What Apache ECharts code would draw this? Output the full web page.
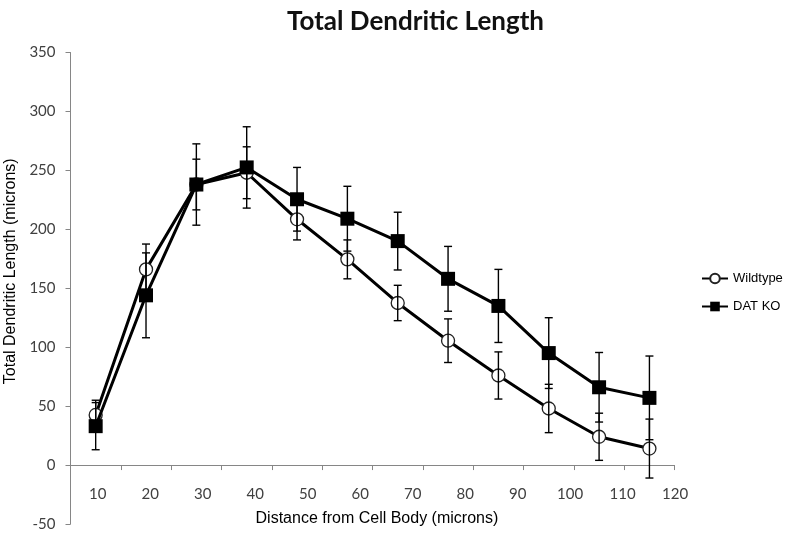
<!DOCTYPE html>
<html>
<head>
<meta charset="utf-8">
<script src="https://cdn.jsdelivr.net/npm/echarts@6/dist/echarts.min.js"></script>
<style>
html,body{margin:0;padding:0;background:#fff;}
#chart{width:800px;height:537px;}
</style>
</head>
<body>
<div id="chart"></div>
<script>
// ---- data ----
const categories = ['10','20','30','40','50','60','70','80','90','100','110','120'];
const wildtype    = [42.5, 166, 238, 248, 208.5, 174.5, 137.5, 105.5, 76, 48, 24, 14];
const wildtypeErr = [12.5, 21.5, 21.5, 22, 17.5, 16.5, 15, 18.5, 20, 20.5, 20, 25];
const datko       = [33, 144, 238, 252.5, 225.5, 209, 190, 158, 135, 95, 66, 57];
const datkoErr    = [20, 36, 34.5, 34.5, 27, 27.5, 24.5, 27.5, 31, 30, 29.5, 35.5];
const yTicks = { min: -50, max: 350, interval: 50 };

function errData(vals, errs) {
  return vals.map((v, i) => [i, v - errs[i], v + errs[i]]);
}
function errRender(params, api) {
  const x = api.value(0);
  const lo = api.coord([x, api.value(1)]);
  const hi = api.coord([x, api.value(2)]);
  const w = 4;
  const st = { stroke: '#000', lineWidth: 1.4 };
  return {
    type: 'group',
    children: [
      { type: 'line', shape: { x1: hi[0], y1: hi[1], x2: lo[0], y2: lo[1] }, style: st },
      { type: 'line', shape: { x1: hi[0] - w, y1: hi[1], x2: hi[0] + w, y2: hi[1] }, style: st },
      { type: 'line', shape: { x1: lo[0] - w, y1: lo[1], x2: lo[0] + w, y2: lo[1] }, style: st }
    ]
  };
}

const chart = echarts.init(document.getElementById('chart'), null, { renderer: 'canvas' });
const axisGray = '#868686';
const labelColor = '#404040';
chart.setOption({
  backgroundColor: '#ffffff',
  animation: false,
  title: {
    text: 'Total Dendritic Length',
    left: 410.5, top: 4, textAlign: 'center',
    textStyle: { fontFamily: 'Lato', fontWeight: 'bold', fontSize: 26, color: '#111' }
  },
  legend: {
    orient: 'vertical',
    left: 696, top: 267,
    itemWidth: 26, itemHeight: 12, itemGap: 15,
    textStyle: { fontFamily: 'Liberation Sans', fontSize: 13, color: '#000' },
    data: ['Wildtype', 'DAT KO']
  },
  grid: [
    { left: 70.5, right: 125.4, top: 52.5, bottom: 13, containLabel: false, outerBoundsMode: 'none' },
    { left: 71.4, width: 630, top: 52.5, bottom: 72, containLabel: false, outerBoundsMode: 'none' }
  ],
  xAxis: [
    {
      type: 'category', gridIndex: 0, data: categories, boundaryGap: true,
      axisLine: { onZero: true, lineStyle: { color: axisGray, width: 1 } },
      axisTick: { show: true, interval: 0, length: 5, lineStyle: { color: axisGray } },
      axisLabel: { show: false }
    },
    {
      type: 'category', gridIndex: 1, data: categories, boundaryGap: true, position: 'bottom',
      axisLine: { show: false }, axisTick: { show: false },
      axisLabel: { interval: 0, margin: 22, fontFamily: 'Lato', fontSize: 15, color: labelColor },
      name: 'Distance from Cell Body (microns)',
      nameLocation: 'middle', nameGap: 46,
      nameTextStyle: { fontFamily: 'Liberation Sans', fontSize: 16, color: '#000', padding: [0, 19, 0, 0] }
    }
  ],
  yAxis: [
    {
      type: 'value', gridIndex: 0, min: yTicks.min, max: yTicks.max, interval: yTicks.interval,
      splitLine: { show: false },
      axisLine: { show: true, lineStyle: { color: axisGray, width: 1 } },
      axisTick: { show: true, length: 5, lineStyle: { color: axisGray } },
      axisLabel: { margin: 15, fontFamily: 'Lato', fontSize: 15, color: labelColor },
      name: 'Total Dendritic Length (microns)',
      nameLocation: 'middle', nameGap: 46, nameRotate: 90,
      nameTextStyle: { fontFamily: 'Liberation Sans', fontSize: 16, color: '#000', padding: [0, 0, 0, 34] }
    },
    {
      type: 'value', gridIndex: 1, min: yTicks.min, max: yTicks.max, show: false
    }
  ],
  series: [
    {
      name: 'Wildtype', type: 'line', xAxisIndex: 0, yAxisIndex: 0, data: wildtype,
      symbol: 'circle', symbolSize: 13, z: 3,
      lineStyle: { color: '#000', width: 3 },
      itemStyle: { color: '#fff', borderColor: '#222', borderWidth: 1.3 }
    },
    {
      name: 'DAT KO', type: 'line', xAxisIndex: 0, yAxisIndex: 0, data: datko,
      symbol: 'rect', symbolSize: 14, z: 4,
      lineStyle: { color: '#000', width: 3 },
      itemStyle: { color: '#000', borderColor: '#000', borderWidth: 0 }
    },
    {
      type: 'custom', xAxisIndex: 0, yAxisIndex: 0, z: 5, silent: true,
      data: errData(wildtype, wildtypeErr), encode: { x: 0, y: [1, 2] },
      renderItem: errRender
    },
    {
      type: 'custom', xAxisIndex: 0, yAxisIndex: 0, z: 5, silent: true,
      data: errData(datko, datkoErr), encode: { x: 0, y: [1, 2] },
      renderItem: errRender
    }
  ]
});
</script>
</body>
</html>
